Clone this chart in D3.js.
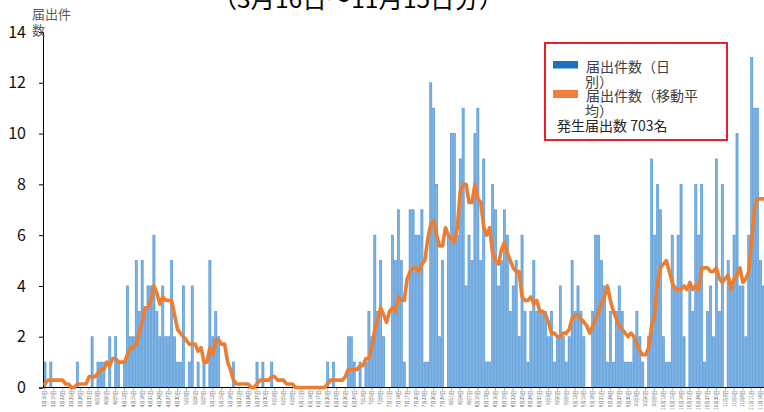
<!DOCTYPE html>
<html><head><meta charset="utf-8">
<script src="https://cdn.jsdelivr.net/npm/d3@7"></script>
<style>html,body{margin:0;padding:0;background:#fff;}svg{display:block;}</style>
</head><body>
<svg id="chart" width="764" height="412"></svg>
<script>
// ---- data ----
const startDate = "2020-03-16";
const dayCount = 245;
const dailyCounts = [
 1,0,1,0,0,0,0,0,0,0,
 0,1,0,0,0,0,2,0,1,1,
 1,0,2,0,2,1,0,1,4,2,
 2,5,3,5,3,4,4,6,3,2,
 4,2,2,5,2,1,1,4,0,1,
 4,0,1,0,1,0,5,2,3,2,
 0,0,0,0,1,0,0,0,0,0,
 0,0,1,0,1,0,0,1,0,0,
 0,0,0,0,0,0,0,0,0,0,
 0,0,0,0,0,0,1,0,1,0,
 0,0,0,2,2,1,0,1,0,1,
 3,2,6,3,5,2,0,0,6,5,
 7,5,1,0,7,7,6,6,7,1,
 1,12,11,8,2,5,0,6,10,10,
 6,9,11,4,6,5,10,11,5,9,
 1,1,8,7,4,5,7,6,3,4,
 5,2,6,3,1,3,5,3,3,3,
 3,2,3,1,2,4,2,1,2,5,
 3,4,3,2,0,0,3,6,6,5,
 4,1,3,1,3,4,3,1,1,1,
 2,3,2,1,0,2,9,6,8,7,
 2,1,1,6,4,6,8,2,0,4,
 3,8,6,8,1,3,4,2,9,3,
 8,0,5,4,6,10,4,4,2,6,
 13,11,11,5,4
];
const movingAvg = [
 0.14,0.29,0.29,0.29,0.29,0.29,0.29,0.14,0.14,0,
 0,0.14,0.14,0.14,0.14,0.43,0.43,0.43,0.57,0.71,
 0.71,1.0,0.86,1.14,1.14,1.0,1.0,1.0,1.29,1.57,
 1.57,1.71,2.14,2.57,3.14,3.14,3.43,4.0,3.71,3.29,
 3.57,3.43,3.43,3.43,2.86,2.29,2.14,2.0,1.86,1.71,
 1.71,1.71,1.43,1.57,1.0,1.0,1.57,1.29,1.86,1.86,
 1.71,1.71,1.0,0.71,0.29,0.14,0.14,0.14,0.14,0.14,
 0,0,0.14,0.29,0.29,0.29,0.29,0.43,0.43,0.29,
 0.29,0.29,0.14,0.14,0.14,0,0,0,0,0,
 0,0,0,0,0,0,0.14,0.29,0.29,0.29,
 0.29,0.29,0.43,0.71,0.71,0.71,0.71,0.86,0.86,1.14,
 1.14,1.57,2.29,2.71,3.14,2.86,2.57,3.0,3.14,3.0,
 3.57,3.43,3.43,4.29,4.57,4.71,4.71,4.57,4.86,5.0,
 5.86,6.43,6.57,6.0,5.57,5.57,6.29,6.0,5.86,5.71,
 6.29,7.71,8.0,8.0,7.29,7.29,8.0,7.43,7.29,6.29,
 6.0,6.29,5.29,5.0,4.86,5.43,5.71,5.29,5.0,4.71,
 4.57,4.57,3.57,3.43,3.43,3.57,3.29,3.43,3.0,3.0,
 2.86,2.57,2.14,2.14,2.0,2.0,2.14,2.14,2.29,2.71,
 2.86,2.86,2.71,2.57,2.43,2.14,2.43,2.71,3.0,3.29,
 3.57,4.0,3.43,3.0,2.71,2.43,2.29,2.14,2.0,2.14,
 2.0,1.71,1.43,1.29,1.29,1.57,2.43,2.86,4.14,4.71,
 4.86,5.0,4.57,4.14,3.86,3.86,3.86,4.0,3.86,4.14,
 3.86,4.0,3.86,4.71,4.71,4.71,4.57,4.57,4.71,4.29,
 4.14,4.29,4.43,3.86,4.29,4.43,4.71,4.14,4.29,4.57,
 5.86,7.14,7.43,7.43,7.43
];
const yTicks = [0,2,4,6,8,10,12,14];
const titleText = "（3月16日～11月15日分）";
const yTitleLines = ["届出件", "数"];
const legendDaily = ["届出件数（日", "別）"];
const legendAvg = ["届出件数（移動平", "均）"];
const legendTotal = "発生届出数 703名";

// ---- categories ----
const parse = d3.timeParse("%Y-%m-%d");
const d0 = parse(startDate);
const dates = d3.timeDay.range(d0, d3.timeDay.offset(d0, dayCount));
const fmt = d => (d.getMonth()+1) + "月" + d.getDate() + "日";
const categories = dates.map(fmt);

// ---- drawing ----
const svg = d3.select("#chart");
const FONT = "'Noto Sans CJK JP','Noto Sans',sans-serif";
const x = d3.scaleBand().domain(categories).range([43.5, 765]).paddingInner(0.28).paddingOuter(0.14);
const y = d3.scaleLinear().domain([0, 14]).range([387.5, 32]);

// title (cut off at top)
svg.append("text").attr("x", 358).attr("y", 8).attr("text-anchor", "middle")
  .attr("font-family", FONT).attr("font-size", 24.5).attr("fill", "#000").text(titleText);

// bars
svg.append("g").selectAll("rect").data(dailyCounts).join("rect")
  .attr("x", (d,i) => x(categories[i]))
  .attr("width", x.bandwidth())
  .attr("y", d => y(d))
  .attr("height", d => y(0) - y(d))
  .attr("fill", "#7db2e2")
  .attr("stroke", "#4a90d6")
  .attr("stroke-width", 0.6);

// y axis
const yAxis = d3.axisLeft(y).tickValues(yTicks).tickSize(4).tickPadding(13);
const gy = svg.append("g").attr("transform", "translate(43,0)").call(yAxis);
gy.select(".domain").attr("stroke", "#000");
gy.selectAll(".tick line").attr("stroke", "#000");
gy.selectAll(".tick text").attr("font-family", FONT).attr("font-size", 16).attr("fill", "#111");

// x axis line
svg.append("line").attr("x1", 43).attr("x2", 764).attr("y1", y(0)).attr("y2", y(0))
  .attr("stroke", "#000").attr("stroke-width", 1);
// x ticks & labels every 3 days
const labelIdx = d3.range(0, categories.length, 3);
svg.append("g").selectAll("line").data(labelIdx).join("line")
  .attr("x1", i => x(categories[i]) + x.bandwidth()/2)
  .attr("x2", i => x(categories[i]) + x.bandwidth()/2)
  .attr("y1", y(0)).attr("y2", y(0) + 3)
  .attr("stroke", "#666").attr("stroke-width", 0.6);
svg.append("g").selectAll("text").data(labelIdx).join("text")
  .attr("transform", i => `translate(${x(categories[i]) + x.bandwidth()/2 + 1.5},390.5) rotate(-90)`)
  .attr("text-anchor", "end")
  .attr("font-family", FONT).attr("font-size", 4.6).attr("fill", "#595959")
  .text(i => categories[i]);

// moving average line
const line = d3.line()
  .x((d,i) => x(categories[i]) + x.bandwidth()/2)
  .y(d => y(d));
svg.append("path").datum(movingAvg).attr("d", line)
  .attr("fill", "none").attr("stroke", "#ED7D31").attr("stroke-width", 3.6)
  .attr("stroke-linejoin", "round").attr("stroke-linecap", "round");

// y title
svg.append("text").attr("font-family", FONT).attr("font-size", 13).attr("fill", "#595959")
  .selectAll("tspan").data(yTitleLines).join("tspan")
  .attr("x", 32).attr("y", (d,i) => 19 + i*16).text(d => d);

// legend
const lg = svg.append("g");
lg.append("rect").attr("x", 545).attr("y", 43).attr("width", 182).attr("height", 97)
  .attr("fill", "#fff").attr("stroke", "#e8202a").attr("stroke-width", 2);
lg.append("rect").attr("x", 553).attr("y", 61).attr("width", 25).attr("height", 7.5).attr("fill", "#1b70c0");
lg.append("rect").attr("x", 553).attr("y", 90).attr("width", 25).attr("height", 8).attr("fill", "#F47E3E");
const lt = (lines, y0) => lg.append("text").attr("font-family", FONT).attr("font-size", 14).attr("fill", "#404040")
  .selectAll("tspan").data(lines).join("tspan")
  .attr("x", (d,i) => i === 0 ? 586 : 585).attr("y", (d,i) => y0 + i*15).text(d => d);
lt(legendDaily, 72);
lt(legendAvg, 101);
lg.append("text").attr("x", 557).attr("y", 131).attr("font-family", FONT).attr("font-size", 14)
  .attr("fill", "#262626").text(legendTotal);
</script>
</body></html>
